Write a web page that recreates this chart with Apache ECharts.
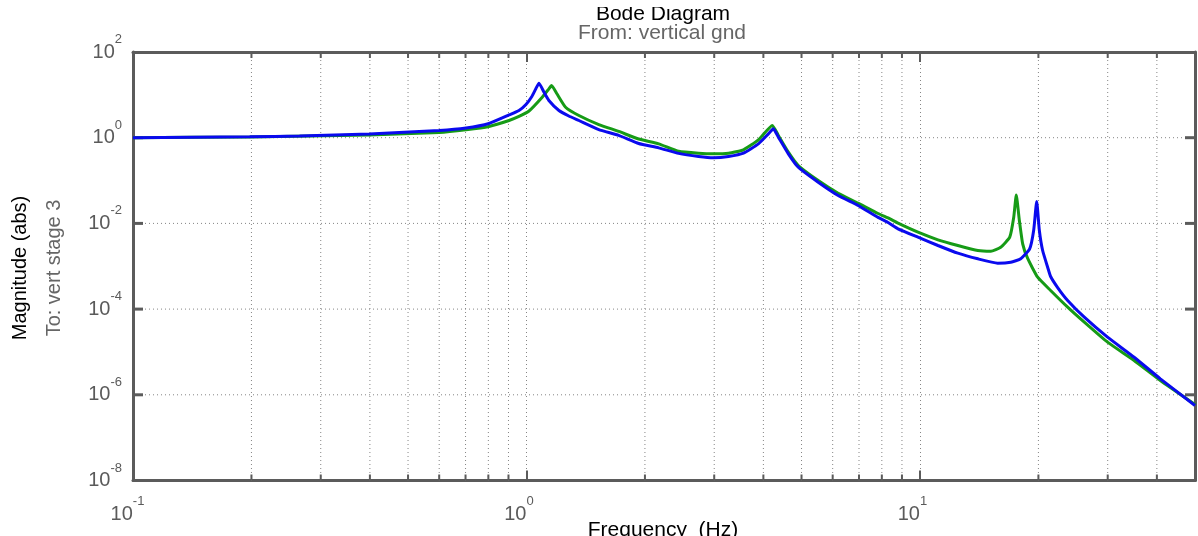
<!DOCTYPE html>
<html>
<head>
<meta charset="utf-8">
<script src="https://cdn.jsdelivr.net/npm/echarts@6/dist/echarts.min.js"></script>
<style>
  html, body { margin: 0; padding: 0; background: #ffffff; }
  #chart { width: 1198px; height: 536px; }
</style>
</head>
<body>
<div id="chart"></div>
<script>
// Magnitude response of the two models (frequency in Hz, magnitude in abs units)
const freqGreen = [0.1, 0.198, 0.399, 0.600, 0.702, 0.803, 0.903, 0.957, 1.015, 1.095, 1.140, 1.158, 1.195, 1.257, 1.359, 1.527, 1.716, 1.928, 2.167, 2.436, 2.737, 2.988, 3.262, 3.559, 3.885, 4.215, 4.367, 4.629, 4.906, 5.513, 6.196, 6.963, 7.825, 8.295, 8.796, 9.883, 11.11, 12.48, 14.03, 15.14, 16.04, 16.91, 17.31, 17.57, 17.89, 18.24, 18.78, 19.91, 21.48, 23.73, 26.16, 29.97, 35.01, 40.83, 50.0];
const magGreen = [1.0, 1.04, 1.16, 1.32, 1.53, 1.83, 2.52, 3.13, 4.2, 8.68, 13.8, 16.5, 10.6, 5.15, 3.3, 2.03, 1.40, 0.93, 0.72, 0.484, 0.435, 0.421, 0.435, 0.522, 0.893, 1.93, 1.13, 0.459, 0.2245, 0.1003, 0.0507, 0.0296, 0.0170, 0.0134, 0.0101, 0.00623, 0.00414, 0.00305, 0.00233, 0.00224, 0.00278, 0.00476, 0.01395, 0.046, 0.0117, 0.00334, 0.00152, 0.000555, 0.000272, 0.000111, 4.95e-5, 1.69e-5, 6.32e-6, 2.16e-6, 5.94e-7];

const freqBlue = [0.1, 0.198, 0.265, 0.399, 0.600, 0.702, 0.803, 0.903, 0.957, 0.997, 1.032, 1.057, 1.076, 1.108, 1.140, 1.209, 1.281, 1.359, 1.527, 1.716, 1.928, 2.167, 2.436, 2.737, 2.988, 3.262, 3.559, 3.885, 4.118, 4.241, 4.367, 4.629, 4.906, 5.513, 6.196, 6.963, 7.825, 8.295, 8.796, 9.883, 11.11, 12.48, 14.03, 15.76, 17.01, 18.03, 19.00, 19.45, 19.80, 20.11, 20.50, 21.11, 21.48, 22.38, 23.73, 26.16, 29.97, 35.01, 40.83, 50.0];
const magBlue = [1.0, 1.05, 1.09, 1.22, 1.47, 1.68, 2.15, 3.39, 4.31, 5.95, 9.15, 14.07, 18.7, 11.5, 7.38, 4.31, 3.21, 2.52, 1.55, 1.13, 0.73, 0.58, 0.43, 0.364, 0.34, 0.364, 0.435, 0.72, 1.23, 1.61, 1.03, 0.421, 0.205, 0.0915, 0.0448, 0.0262, 0.0138, 0.0105, 0.00748, 0.00476, 0.00305, 0.00202, 0.00149, 0.00118, 0.00124, 0.00149, 0.00255, 0.00683, 0.0324, 0.00683, 0.00233, 0.00095, 0.000577, 0.000319, 0.000159, 6.47e-5, 2.21e-5, 7.54e-6, 2.36e-6, 5.63e-7];

// Decade tick labels: base 10 with the exponent as superscript
const xDecades = [0.1, 1, 10];
const xExponents = ['-1', '0', '1'];
const yDecades = [1e-8, 1e-6, 1e-4, 1e-2, 1, 1e2];
const yExponents = ['-8', '-6', '-4', '-2', '0', '2'];

const xRange = [0.1, 50];
const yRange = [1e-8, 1e2];

const FONT = '"Liberation Sans", Arial, Helvetica, sans-serif';
const FRAME = '#5b5b5b';
const GRID_DOT = '#858585';
const TICK_TEXT = '#5a5a5a';

function exponentOf(v, decades, exps) {
  for (let i = 0; i < decades.length; i++) {
    if (Math.abs(Math.log10(v) - Math.log10(decades[i])) < 1e-6) return exps[i];
  }
  return null;
}

// Minor decade positions (2..9 times each decade) inside the frequency range
const minorFreqs = [];
xDecades.forEach(d => {
  for (let k = 2; k <= 9; k++) {
    const v = +(k * d).toPrecision(6);
    if (v < xRange[1]) minorFreqs.push(v);
  }
});
// Inner decades of the magnitude axis that carry a dotted grid line and ticks
const yGridDecades = yDecades.slice(1, -1);

const chart = echarts.init(document.getElementById('chart'), null, { renderer: 'canvas' });

// Superscript label pieces: both tokens share one height so the exponent rides high
const xRich = {
  b: { fontFamily: FONT, fontSize: 20, color: TICK_TEXT, lineHeight: 20, padding: [9, 0, 0, 0] },
  e: { fontFamily: FONT, fontSize: 13, color: TICK_TEXT, lineHeight: 13, padding: [0, 15, 16, 0] },
  n: { fontFamily: FONT, fontSize: 13, color: TICK_TEXT, lineHeight: 13, padding: [0, 11, 16, 0] }
};
const yRich = {
  b: { fontFamily: FONT, fontSize: 20, color: TICK_TEXT, lineHeight: 20, padding: [9, 0, 9, 0] },
  e: { fontFamily: FONT, fontSize: 13, color: TICK_TEXT, lineHeight: 13, padding: [0, 0, 25, 0] }
};

const option = {
  animation: false,
  backgroundColor: '#ffffff',
  grid: { left: 133, right: -4, top: 52, bottom: 55.5, containLabel: false },
  xAxis: [
    {
      type: 'log', logBase: 10, min: xRange[0], max: xRange[1], position: 'bottom',
      axisLine: { show: true, onZero: false, lineStyle: { color: FRAME, width: 3 } },
      axisTick: { show: true, inside: true, length: 10, lineStyle: { color: FRAME, width: 2 } },
      splitLine: { show: true, lineStyle: { color: GRID_DOT, width: 1, type: [1, 3] } },
      minorTick: { show: false },
      axisLabel: {
        margin: 19,
        formatter: v => {
          const e = exponentOf(v, xDecades, xExponents);
          if (e === null) return '';
          return '{b|10}{' + (e.charAt(0) === '-' ? 'n' : 'e') + '|' + e + '}';
        },
        rich: xRich
      }
    },
    {
      type: 'log', logBase: 10, min: xRange[0], max: xRange[1], position: 'top',
      axisLine: { show: true, onZero: false, lineStyle: { color: FRAME, width: 3 } },
      axisTick: { show: true, inside: true, length: 10, lineStyle: { color: FRAME, width: 2 } },
      axisLabel: { show: false },
      splitLine: { show: false }
    }
  ],
  yAxis: [
    {
      type: 'log', logBase: 10, min: yRange[0], max: yRange[1], interval: 2, position: 'left',
      axisLine: { show: true, onZero: false, lineStyle: { color: FRAME, width: 3 } },
      axisTick: { show: false },
      splitLine: { show: false },
      axisLabel: {
        margin: 11,
        formatter: v => {
          const e = exponentOf(v, yDecades, yExponents);
          if (e === null) return '';
          return '{b|10}{e|' + e + '}';
        },
        rich: yRich
      }
    },
    {
      type: 'log', logBase: 10, min: yRange[0], max: yRange[1], interval: 2, position: 'right',
      axisLine: { show: true, onZero: false, lineStyle: { color: FRAME, width: 3 } },
      axisTick: { show: false },
      axisLabel: { show: false },
      splitLine: { show: false }
    }
  ],
  graphic: [
    { type: 'text', x: 663, y: 14, z: 10, style: { text: 'Bode Diagram', fill: '#000000', font: '21px ' + FONT, textAlign: 'center', textVerticalAlign: 'middle' } },
    // the title band is clipped at its top edge
    { type: 'rect', shape: { x: 560, y: 0, width: 220, height: 7 }, z: 11, style: { fill: '#ffffff' } },
    { type: 'text', x: 662, y: 33, z: 10, style: { text: 'From: vertical gnd', fill: '#666666', font: '21px ' + FONT, textAlign: 'center', textVerticalAlign: 'middle' } },
    { type: 'text', x: 663, y: 530, z: 10, style: { text: 'Frequency  (Hz)', fill: '#000000', font: '21px ' + FONT, textAlign: 'center', textVerticalAlign: 'middle' } },
    { type: 'text', x: 20, y: 268, rotation: Math.PI / 2, z: 10, style: { text: 'Magnitude (abs)', fill: '#000000', font: '20px ' + FONT, textAlign: 'center', textVerticalAlign: 'middle' } },
    { type: 'text', x: 54, y: 268, rotation: Math.PI / 2, z: 10, style: { text: 'To: vert stage 3', fill: '#666666', font: '20px ' + FONT, textAlign: 'center', textVerticalAlign: 'middle' } }
  ],
  series: [
    {
      // dotted minor grid lines and minor ticks at 2..9 of each decade
      type: 'custom',
      xAxisIndex: 0, yAxisIndex: 0,
      silent: true, z: 1,
      data: minorFreqs.map(f => [f, 1]),
      encode: { x: 0, y: 1 },
      renderItem: (params, api) => {
        const f = api.value(0);
        const top = api.coord([f, yRange[1]]);
        const bot = api.coord([f, yRange[0]]);
        return {
          type: 'group',
          children: [
            { type: 'line', shape: { x1: top[0], y1: top[1], x2: bot[0], y2: bot[1] }, style: { stroke: GRID_DOT, lineWidth: 1, lineDash: [1, 3] } },
            { type: 'line', shape: { x1: top[0], y1: top[1], x2: top[0], y2: top[1] + 6 }, style: { stroke: FRAME, lineWidth: 2 } },
            { type: 'line', shape: { x1: bot[0], y1: bot[1], x2: bot[0], y2: bot[1] - 6 }, style: { stroke: FRAME, lineWidth: 2 } }
          ]
        };
      }
    },
    {
      // dotted magnitude grid lines with inward ticks on both sides
      type: 'custom',
      xAxisIndex: 0, yAxisIndex: 0,
      silent: true, z: 1,
      data: yGridDecades.map(m => [1, m]),
      encode: { x: 0, y: 1 },
      renderItem: (params, api) => {
        const m = api.value(1);
        const l = api.coord([xRange[0], m]);
        const r = api.coord([xRange[1], m]);
        return {
          type: 'group',
          children: [
            { type: 'line', shape: { x1: l[0], y1: l[1], x2: r[0], y2: r[1] }, style: { stroke: GRID_DOT, lineWidth: 1, lineDash: [1, 3] } },
            { type: 'line', shape: { x1: l[0], y1: l[1], x2: l[0] + 10, y2: l[1] }, style: { stroke: FRAME, lineWidth: 3 } },
            { type: 'line', shape: { x1: r[0], y1: r[1], x2: r[0] - 10, y2: r[1] }, style: { stroke: FRAME, lineWidth: 3 } }
          ]
        };
      }
    },
    {
      type: 'line', xAxisIndex: 0, yAxisIndex: 0, z: 3,
      data: freqGreen.map((f, i) => [f, magGreen[i]]),
      showSymbol: false, symbol: 'none', smooth: 0.15,
      lineStyle: { color: '#169b16', width: 3 },
      silent: true
    },
    {
      type: 'line', xAxisIndex: 0, yAxisIndex: 0, z: 4,
      data: freqBlue.map((f, i) => [f, magBlue[i]]),
      showSymbol: false, symbol: 'none', smooth: 0.15,
      lineStyle: { color: '#0a0aee', width: 3 },
      silent: true
    }
  ]
};

chart.setOption(option);
</script>
</body>
</html>
